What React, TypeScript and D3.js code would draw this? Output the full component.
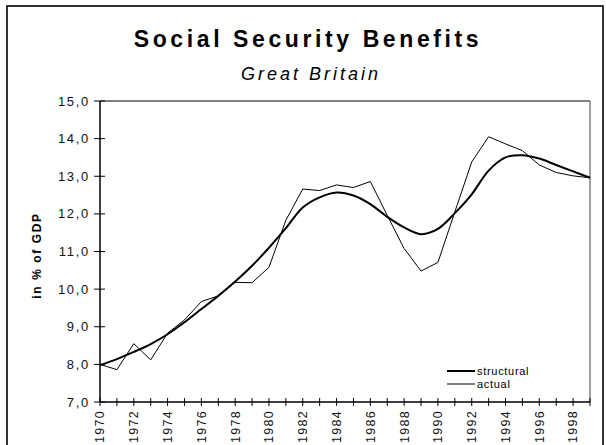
import React from "react";
import * as d3 from "d3";

const years: number[] = [
  1970, 1971, 1972, 1973, 1974, 1975, 1976, 1977, 1978, 1979,
  1980, 1981, 1982, 1983, 1984, 1985, 1986, 1987, 1988, 1989,
  1990, 1991, 1992, 1993, 1994, 1995, 1996, 1997, 1998, 1999,
];

const structural: number[] = [
  7.98, 8.14, 8.33, 8.54, 8.8, 9.12, 9.47, 9.82, 10.2, 10.62,
  11.1, 11.62, 12.17, 12.44, 12.57, 12.49, 12.26, 11.92, 11.64, 11.46,
  11.6, 12.02, 12.52, 13.15, 13.5, 13.56, 13.47, 13.3, 13.13, 12.96,
];

const actual: number[] = [
  8.0, 7.86, 8.55, 8.12, 8.83, 9.18, 9.67, 9.82, 10.18, 10.17,
  10.58, 11.83, 12.66, 12.62, 12.77, 12.7, 12.86, 11.96, 11.08, 10.48,
  10.71, 12.05, 13.38, 14.05, 13.86, 13.68, 13.3, 13.1, 13.01, 12.96,
];

const yTicks: number[] = [7, 8, 9, 10, 11, 12, 13, 14, 15];
const xLabelYears: number[] = years.filter((y) => y % 2 === 0 && y < 1999);

const title = "Social Security Benefits";
const subtitle = "Great Britain";
const yTitle = "in % of GDP";
const seriesNames: string[] = ["structural", "actual"];

const W = 606;
const H = 445;
const L = 100;
const R = 590;
const T = 101;
const B = 402;
const FONT = "'Liberation Sans', Arial, sans-serif";

export default function App() {
  const x = d3.scaleLinear().domain([1970, 1999]).range([L, R]);
  const y = d3.scaleLinear().domain([7, 15]).range([B, T]);

  const smoothLine = d3
    .line<number>()
    .x((_, i) => x(years[i]))
    .y((d) => y(d))
    .curve(d3.curveCatmullRom.alpha(0.5));
  const straightLine = d3
    .line<number>()
    .x((_, i) => x(years[i]))
    .y((d) => y(d));

  const fmt = (v: number) => v.toFixed(1).replace(".", ",");

  return (
    <svg
      width={W}
      height={H}
      style={{ position: "absolute", left: 0, top: 0, background: "#fff" }}
      fontFamily={FONT}
    >
      <rect x={0} y={0} width={W} height={H} fill="#fff" />
      <rect x={7} y={6} width={596} height={460} fill="#fff" stroke="#000" strokeWidth={1.6} />

      <text x={308} y={47} textAnchor="middle" fontSize={23} fontWeight="bold" letterSpacing={3.6} fill="#000">
        {title}
      </text>
      <text x={311} y={80} textAnchor="middle" fontSize={18} fontStyle="italic" letterSpacing={3} fill="#000">
        {subtitle}
      </text>

      {/* plot borders */}
      <line x1={L} x2={R} y1={T} y2={T} stroke="#000" strokeWidth={1} />
      <line x1={R} x2={R} y1={T} y2={B} stroke="#808080" strokeWidth={1.5} />

      {/* y axis */}
      <line x1={L} x2={L} y1={T} y2={B} stroke="#000" strokeWidth={1.5} />
      {yTicks.map((t) => (
        <g key={t}>
          <line x1={L - 6} x2={L + 5} y1={y(t)} y2={y(t)} stroke="#000" strokeWidth={1} />
          <text x={L - 10} y={y(t)} dy="0.35em" textAnchor="end" fontSize={13} letterSpacing={1.7} fill="#111">
            {fmt(t)}
          </text>
        </g>
      ))}

      {/* x axis */}
      <line x1={L} x2={R} y1={B} y2={B} stroke="#000" strokeWidth={1.5} />
      {years.map((yr) => (
        <line key={yr} x1={x(yr)} x2={x(yr)} y1={B - 4} y2={B + 4} stroke="#000" strokeWidth={1} />
      ))}
      {xLabelYears.map((yr) => (
        <text
          key={yr}
          transform={`translate(${x(yr)},${410}) rotate(-90)`}
          dy="0.35em"
          textAnchor="end"
          fontSize={12.5}
          letterSpacing={1.3}
          fill="#111"
        >
          {yr}
        </text>
      ))}

      <text
        transform={`translate(37,${(T + B) / 2 + 4}) rotate(-90)`}
        dy="0.35em"
        textAnchor="middle"
        fontSize={12}
        fontWeight="bold"
        letterSpacing={1.6}
        fill="#000"
      >
        {yTitle}
      </text>

      {/* series */}
      <path d={straightLine(actual) || ""} fill="none" stroke="#000" strokeWidth={1} />
      <path d={smoothLine(structural) || ""} fill="none" stroke="#000" strokeWidth={2} />

      {/* legend */}
      <line x1={447} x2={475} y1={371} y2={371} stroke="#000" strokeWidth={2} />
      <text x={477} y={371} dy="0.35em" fontSize={11} letterSpacing={0.7} fill="#000">
        {seriesNames[0]}
      </text>
      <line x1={447} x2={475} y1={384} y2={384} stroke="#000" strokeWidth={1} />
      <text x={477} y={384} dy="0.35em" fontSize={11} letterSpacing={0.7} fill="#000">
        {seriesNames[1]}
      </text>
    </svg>
  );
}
